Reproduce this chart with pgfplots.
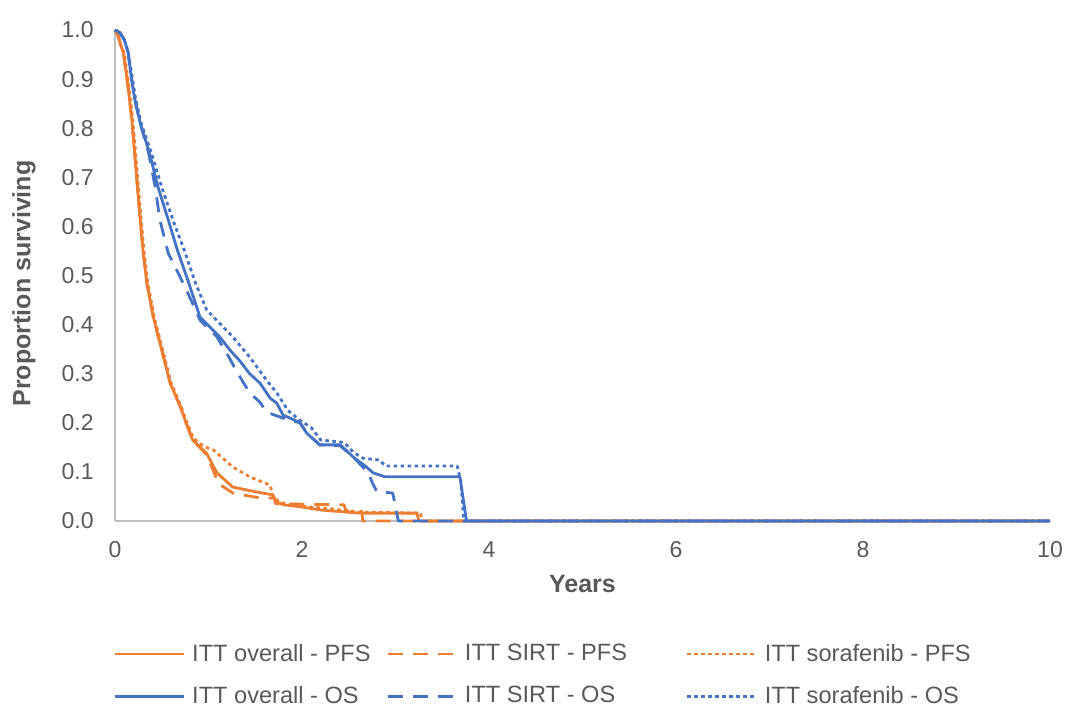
\documentclass[border=0pt]{standalone}
\usepackage{fontspec}
\setmainfont{Liberation Sans}
\usepackage{pgfplots}
\pgfplotsset{compat=1.18}
\definecolor{orng}{RGB}{237,125,49}
\definecolor{blu}{RGB}{68,114,196}
\definecolor{txt}{RGB}{89,89,89}
\definecolor{axl}{RGB}{191,191,191}
\begin{document}
\begin{tikzpicture}
\useasboundingbox (-57.5pt,-92.5pt) rectangle (475.5pt,260.5pt);
\begin{axis}[
  at={(0,0)}, anchor=south west,
  scale only axis, width=467.5pt, height=245.5pt,
  xmin=0, xmax=10, ymin=0, ymax=1,
  clip=false,
  xtick={0,2,4,6,8,10},
  ytick={0,0.1,0.2,0.3,0.4,0.5,0.6,0.7,0.8,0.9,1},
  axis x line*=bottom, axis y line*=left,
  axis line style={draw=axl, line width=0.75pt},
  major tick length=0pt, tick style={draw=none},
  /pgf/number format/assume math mode=true,
  tick label style={font=\fontsize{11.5}{13.8}\selectfont, text=txt, inner sep=0pt},
  yticklabel style={/pgf/number format/.cd, fixed, fixed zerofill, precision=1, /tikz/.cd, anchor=east, xshift=-10.5pt},
  xticklabel style={anchor=base, yshift=-18.5pt},
  xlabel={Years}, ylabel={Proportion surviving},
  every axis x label/.style={at={(axis description cs:0.5,-0.1466)}, anchor=base,
    font=\bfseries\fontsize{12.5}{15}\selectfont, text=txt},
  every axis y label/.style={at={(axis description cs:-0.0973,0.4837)}, anchor=center, rotate=90,
    font=\bfseries\fontsize{12.5}{15}\selectfont, text=txt},
  legend columns=3,
  legend cell align=left,
  legend style={draw=none, fill=none, at={(axis description cs:0,0)}, anchor=north west,
    xshift=-1pt, yshift=-61.3pt, font=\fontsize{11.8}{14}\selectfont\color{txt},
    inner sep=0pt, row sep=11pt, column sep=0pt, nodes={inner sep=0pt},
    /tikz/every odd column/.append style={column sep=1.5pt}},
  legend image code/.code={\draw[#1] (0pt,0pt) -- (34.5pt,0pt); \path (36.5pt,0pt);},
  every axis plot/.append style={line width=1.4pt, line join=round},
]
% ITT overall - PFS
\addplot[orng] coordinates {
(0,1) (0.03,0.99) (0.06,0.97) (0.09,0.953) (0.14,0.884) (0.18,0.817) (0.21,0.75) (0.24,0.68)
(0.27,0.613) (0.30,0.55) (0.34,0.485) (0.41,0.415) (0.50,0.348) (0.59,0.281) (0.70,0.232)
(0.76,0.2) (0.83,0.165) (0.98,0.138) (1.09,0.098) (1.26,0.069) (1.52,0.059) (1.69,0.053)
(1.72,0.04) (1.80,0.033) (1.98,0.029) (2.22,0.022) (2.62,0.016) (3.23,0.016) (3.25,0) (10,0)};
\addlegendentry{\makebox[97pt][l]{ITT overall - PFS}}
% ITT SIRT - PFS
\addplot[orng, dash pattern=on 7.5pt off 5pt] coordinates {
(0,1) (0.03,0.99) (0.06,0.97) (0.09,0.953) (0.14,0.884) (0.18,0.817) (0.21,0.75) (0.24,0.68)
(0.27,0.613) (0.30,0.55) (0.34,0.485) (0.41,0.415) (0.50,0.348) (0.59,0.281) (0.70,0.232)
(0.76,0.2) (0.83,0.165) (0.98,0.135) (1.07,0.094) (1.10,0.077) (1.26,0.057) (1.40,0.052)
(1.55,0.047) (1.70,0.047) (1.72,0.035) (2.45,0.033) (2.47,0.02) (2.64,0.02) (2.65,0) (10,0)};
\addlegendentry{\makebox[110.5pt][l]{ITT SIRT - PFS}}
% ITT sorafenib - PFS
\addplot[orng, dash pattern=on 1.75pt off 1.75pt] coordinates {
(0,1) (0.03,0.99) (0.06,0.97) (0.10,0.953) (0.15,0.884) (0.19,0.817) (0.22,0.75) (0.25,0.68)
(0.28,0.613) (0.31,0.55) (0.35,0.485) (0.42,0.415) (0.51,0.348) (0.60,0.281) (0.71,0.232)
(0.77,0.2) (0.84,0.168) (0.95,0.152) (1.05,0.145) (1.26,0.11) (1.44,0.09) (1.66,0.073)
(1.69,0.05) (1.75,0.04) (1.85,0.033) (2.0,0.03) (2.3,0.025) (2.6,0.018) (3.27,0.016) (3.28,0) (10,0)};
\addlegendentry{ITT sorafenib - PFS}
% ITT overall - OS
\addplot[blu] coordinates {
(0,1) (0.05,0.995) (0.10,0.98) (0.14,0.955) (0.17,0.91) (0.21,0.86) (0.27,0.81) (0.37,0.749) (0.46,0.68)
(0.57,0.613) (0.67,0.55) (0.78,0.49) (0.91,0.415) (1.12,0.375) (1.23,0.348) (1.34,0.325)
(1.44,0.30) (1.55,0.281) (1.66,0.25) (1.73,0.24) (1.80,0.215) (1.87,0.21) (1.98,0.2)
(2.05,0.179) (2.19,0.155) (2.41,0.155) (2.55,0.13) (2.69,0.11) (2.76,0.098) (2.89,0.09)
(3.69,0.09) (3.72,0.05) (3.76,0) (10,0)};
\addlegendentry{\makebox[97pt][l]{ITT overall - OS}}
% ITT SIRT - OS
\addplot[blu, dash pattern=on 7.5pt off 5pt] coordinates {
(0,1) (0.05,0.995) (0.10,0.98) (0.14,0.955) (0.17,0.91) (0.21,0.86) (0.27,0.81) (0.36,0.749) (0.43,0.68)
(0.48,0.613) (0.57,0.545) (0.66,0.511) (0.78,0.464) (0.91,0.409) (1.09,0.375) (1.23,0.33)
(1.28,0.312) (1.37,0.283) (1.44,0.261) (1.55,0.242) (1.62,0.222) (1.76,0.212) (1.87,0.205)
(1.98,0.2) (2.05,0.179) (2.19,0.155) (2.41,0.153) (2.55,0.13) (2.65,0.11) (2.71,0.098)
(2.75,0.079) (2.80,0.06) (2.97,0.057) (3.0,0.03) (3.03,0) (10,0)};
\addlegendentry{\makebox[110.5pt][l]{ITT SIRT - OS}}
% ITT sorafenib - OS
\addplot[blu, dash pattern=on 1.75pt off 1.75pt] coordinates {
(0,1) (0.05,0.995) (0.10,0.98) (0.14,0.955) (0.18,0.91) (0.22,0.86) (0.28,0.81) (0.39,0.749) (0.50,0.68)
(0.62,0.613) (0.74,0.552) (0.86,0.485) (0.98,0.43) (1.26,0.375) (1.44,0.334) (1.62,0.287)
(1.73,0.261) (1.85,0.225) (1.98,0.205) (2.1,0.19) (2.2,0.165) (2.45,0.16) (2.55,0.14)
(2.65,0.128) (2.83,0.124) (2.89,0.112) (3.66,0.112) (3.70,0.08) (3.73,0) (10,0)};
\addlegendentry{ITT sorafenib - OS}
\end{axis}
\end{tikzpicture}
\end{document}
